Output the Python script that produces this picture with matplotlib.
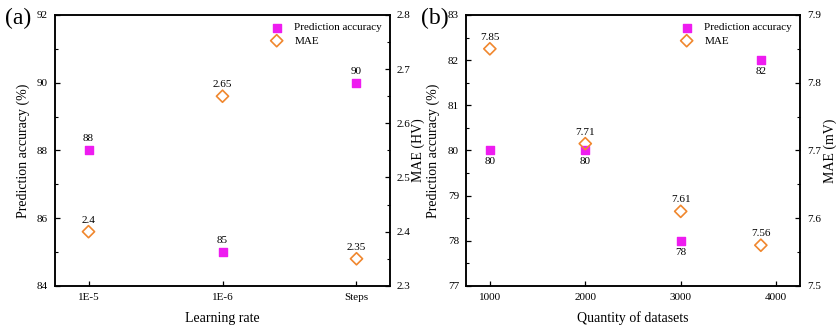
import matplotlib
matplotlib.use("Agg")
import matplotlib.pyplot as plt
from matplotlib.ticker import MultipleLocator

plt.rcParams["font.family"] = ["Liberation Serif", "DejaVu Serif"]

# panel (a)
lr_labels = ["1E-5", "1E-6", "Steps"]
lr_acc = [88, 85, 90]
lr_mae = [2.4, 2.65, 2.35]

# panel (b)
n_data = [1000, 2000, 3000, 3840]
n_acc = [80, 80, 78, 82]
n_mae = [7.85, 7.71, 7.61, 7.56]

acc_color = "#ee1cf0"
mae_color = "#f0872e"

fig = plt.figure(figsize=(8.36, 3.32), dpi=100)
ax1 = fig.add_axes([0.0658, 0.139, 0.4007, 0.816])
ax2 = fig.add_axes([0.5574, 0.139, 0.3995, 0.816])


def style(ax):
    ax.tick_params(direction="in", labelsize=8, width=0.9, length=3.5, pad=5)
    ax.tick_params(which="minor", direction="in", width=0.8, length=2)
    for s in ax.spines.values():
        s.set_linewidth(1.1)


# ---- (a)
xs = list(range(len(lr_labels)))
ax1.scatter(xs, lr_acc, marker="s", s=38, color=acc_color, zorder=3,
            label="Prediction accuracy")
ax1b = ax1.twinx()
ax1b.scatter(xs, lr_mae, marker="D", s=38, facecolor="none",
             edgecolor=mae_color, linewidths=1.2, zorder=3, label="MAE")
for x, v in zip(xs, lr_acc):
    ax1.annotate(str(v), (x, v), xytext=(0, 5), textcoords="offset points",
                 ha="center", va="bottom", fontsize=8)
for x, v in zip(xs, lr_mae):
    ax1b.annotate(str(v), (x, v), xytext=(0, 5), textcoords="offset points",
                  ha="center", va="bottom", fontsize=8)
ax1.set_xlim(-0.25, 2.25)
ax1.set_xticks(xs)
ax1.set_xticklabels(lr_labels)
ax1.set_ylim(84, 92)
ax1.yaxis.set_major_locator(MultipleLocator(2))
ax1.yaxis.set_minor_locator(MultipleLocator(1))
ax1b.set_ylim(2.3, 2.8)
ax1b.yaxis.set_major_locator(MultipleLocator(0.1))
ax1b.yaxis.set_minor_locator(MultipleLocator(0.05))
ax1.set_xlabel("Learning rate", fontsize=10)
ax1.xaxis.set_label_coords(0.5, -0.095)
ax1.set_ylabel("Prediction accuracy (%)", fontsize=10)
ax1.yaxis.set_label_coords(-0.075, 0.5)
ax1b.set_ylabel("MAE (HV)", fontsize=10)
ax1b.yaxis.set_label_coords(1.065, 0.5)
style(ax1)
style(ax1b)
h1, l1 = ax1.get_legend_handles_labels()
h2, l2 = ax1b.get_legend_handles_labels()
ax1b.legend(h1 + h2, l1 + l2, loc="upper right", frameon=False, fontsize=8,
            handletextpad=0.6, borderaxespad=0.3, labelspacing=0.3)
fig.text(0.006, 0.945, "(a)", fontsize=17, ha="left", va="center")

# ---- (b)
ax2.scatter(n_data, n_acc, marker="s", s=38, color=acc_color, zorder=3,
            label="Prediction accuracy")
ax2b = ax2.twinx()
ax2b.scatter(n_data, n_mae, marker="D", s=38, facecolor="none",
             edgecolor=mae_color, linewidths=1.2, zorder=3, label="MAE")
for x, v in zip(n_data, n_acc):
    ax2.annotate(str(v), (x, v), xytext=(0, -5), textcoords="offset points",
                 ha="center", va="top", fontsize=8)
for x, v in zip(n_data, n_mae):
    ax2b.annotate(str(v), (x, v), xytext=(0, 5), textcoords="offset points",
                  ha="center", va="bottom", fontsize=8)
ax2.set_xlim(750, 4250)
ax2.set_xticks([1000, 2000, 3000, 4000])
ax2.set_ylim(77, 83)
ax2.yaxis.set_major_locator(MultipleLocator(1))
ax2.yaxis.set_minor_locator(MultipleLocator(0.5))
ax2b.set_ylim(7.5, 7.9)
ax2b.yaxis.set_major_locator(MultipleLocator(0.1))
ax2b.yaxis.set_minor_locator(MultipleLocator(0.05))
ax2.set_xlabel("Quantity of datasets", fontsize=10)
ax2.xaxis.set_label_coords(0.5, -0.095)
ax2.set_ylabel("Prediction accuracy (%)", fontsize=10)
ax2.yaxis.set_label_coords(-0.077, 0.5)
ax2b.set_ylabel("MAE (mV)", fontsize=10)
ax2b.yaxis.set_label_coords(1.072, 0.5)
style(ax2)
style(ax2b)
h1, l1 = ax2.get_legend_handles_labels()
h2, l2 = ax2b.get_legend_handles_labels()
ax2b.legend(h1 + h2, l1 + l2, loc="upper right", frameon=False, fontsize=8,
            handletextpad=0.6, borderaxespad=0.3, labelspacing=0.3)
fig.text(0.503, 0.945, "(b)", fontsize=17, ha="left", va="center")

fig.savefig("out.png", dpi=100)
